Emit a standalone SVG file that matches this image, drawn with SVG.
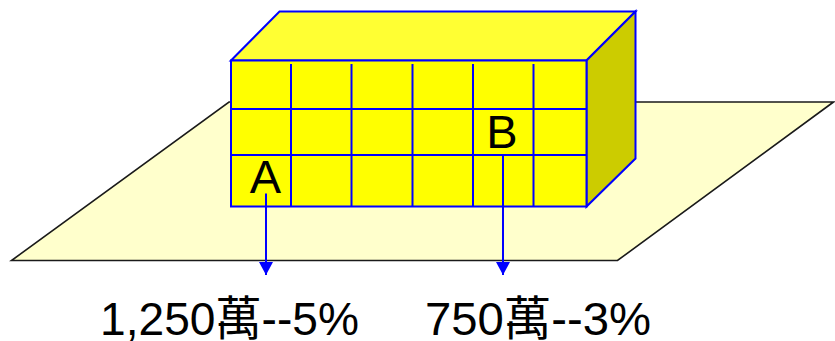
<svg xmlns="http://www.w3.org/2000/svg" width="835" height="341" viewBox="0 0 835 341">
  <style>
    .plane { fill: #FFFFCC; stroke: #1a1a1a; stroke-width: 1.6; }
    .face { stroke: #0000FF; stroke-width: 2; stroke-linejoin: miter; }
    .grid { stroke: #0000FF; stroke-width: 2; fill: none; }
    .pointer { stroke: #0000FF; stroke-width: 2; fill: none; }
    .letter { font-family: "Liberation Sans", "Noto Sans CJK TC", sans-serif; font-size: 47px; fill: #000; text-anchor: middle; }
    .value { font-family: "Liberation Sans", "Noto Sans CJK TC", sans-serif; font-size: 47px; fill: #000; }
  </style>
  <defs>
    <marker id="arrowhead" markerUnits="userSpaceOnUse" markerWidth="14" markerHeight="14" refX="13" refY="7" orient="auto" viewBox="0 0 14 14">
      <path d="M0,0 L13,7 L0,14 Z" fill="#0000FF"/>
    </marker>
  </defs>

  <!-- ground plane -->
  <g id="ground">
    <polygon class="plane" points="229,102 833.5,102 617.5,260.5 11.5,260.5"/>
  </g>

  <!-- building block -->
  <g id="building">
    <polygon class="face" fill="#FFFF33" points="231,60.5 279.5,11.5 635.5,11.5 586.5,60.5"/>
    <polygon class="face" fill="#CCCC00" points="586.5,60.5 635.5,11.5 635.5,158.5 586.5,206.5"/>
    <rect class="face" fill="#FFFF00" x="231" y="60.5" width="355.5" height="146"/>
    <g class="grid">
      <line x1="231" y1="109" x2="586.5" y2="109"/>
      <line x1="231" y1="155" x2="586.5" y2="155"/>
      <line x1="291" y1="64" x2="291" y2="206.5"/>
      <line x1="351.5" y1="64" x2="351.5" y2="206.5"/>
      <line x1="412.5" y1="64" x2="412.5" y2="206.5"/>
      <line x1="473" y1="64" x2="473" y2="206.5"/>
      <line x1="533.5" y1="64" x2="533.5" y2="206.5"/>
    </g>
  </g>

  <g id="label-a">
    <text class="letter" x="265.5" y="192.5">A</text>
  </g>
  <g id="label-b">
    <text class="letter" x="502" y="147.5">B</text>
  </g>

  <!-- pointers to values -->
  <g id="connectors">
    <line class="pointer" x1="266" y1="193.5" x2="266" y2="275" marker-end="url(#arrowhead)"/>
    <line class="pointer" x1="503" y1="155" x2="503" y2="275" marker-end="url(#arrowhead)"/>
  </g>

  <g id="value-a">
    <text class="value" x="100" y="335" textLength="259" lengthAdjust="spacingAndGlyphs">1,250萬--5%</text>
  </g>
  <g id="value-b">
    <text class="value" x="425" y="335" textLength="226" lengthAdjust="spacingAndGlyphs">750萬--3%</text>
  </g>
</svg>
